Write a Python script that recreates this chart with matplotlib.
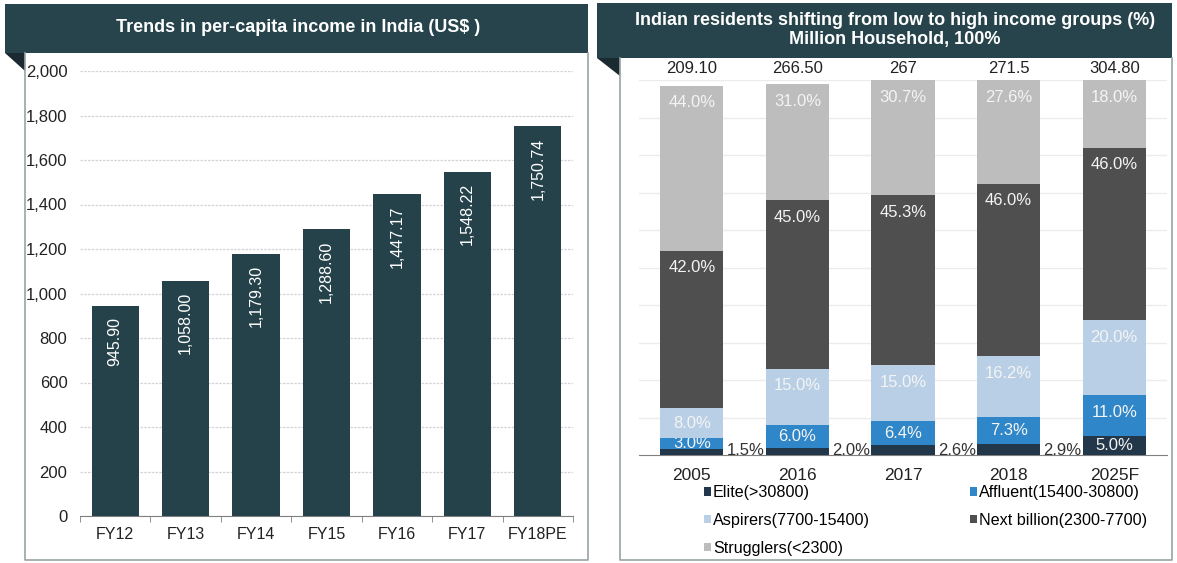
import numpy as np
import matplotlib.pyplot as plt
from matplotlib.patches import Rectangle, Polygon
from matplotlib.lines import Line2D

plt.rcParams['font.family'] = ['Liberation Sans', 'DejaVu Sans']

# left chart: per-capita income
years = ['FY12', 'FY13', 'FY14', 'FY15', 'FY16', 'FY17', 'FY18PE']
income = [945.90, 1058.00, 1179.30, 1288.60, 1447.17, 1548.22, 1750.74]

# right chart: income group shares
periods = ['2005', '2016', '2017', '2018', '2025F']
totals = ['209.10', '266.50', '267', '271.5', '304.80']
elite = [1.5, 2.0, 2.6, 2.9, 5.0]
affluent = [3.0, 6.0, 6.4, 7.3, 11.0]
aspirers = [8.0, 15.0, 15.0, 16.2, 20.0]
next_billion = [42.0, 45.0, 45.3, 46.0, 46.0]
strugglers = [44.0, 31.0, 30.7, 27.6, 18.0]

groups = [
    ('Elite(>30800)', elite, '#22384a'),
    ('Affluent(15400-30800)', affluent, '#2f86c8'),
    ('Aspirers(7700-15400)', aspirers, '#b9cfe6'),
    ('Next billion(2300-7700)', next_billion, '#4f4f4f'),
    ('Strugglers(<2300)', strugglers, '#bdbdbd'),
]

W, H = 1177, 563
fig = plt.figure(figsize=(W / 100, H / 100), dpi=100)
header = '#27444c'
border = '#9aa4a6'


def px(x0, y0, x1, y1):
    # pixel box -> figure fraction rect
    return [x0 / W, 1 - y1 / H, (x1 - x0) / W, (y1 - y0) / H]


def panel(x0, x1, ty0, ty1, fold):
    b = px(x0, ty0, x1, ty1)
    fig.patches.append(Rectangle((b[0], b[1]), b[2], b[3], transform=fig.transFigure,
                                 facecolor=header, edgecolor='none', zorder=0))
    tri = [(x0 / W, 1 - ty1 / H), (fold / W, 1 - ty1 / H), (fold / W, 1 - (ty1 + 18) / H)]
    fig.patches.append(Polygon(tri, closed=True, transform=fig.transFigure,
                               facecolor='#1a2a30', edgecolor='none'))
    xs = [fold / W, fold / W, x1 / W, x1 / W]
    ys = [1 - ty1 / H, 1 - 560 / H, 1 - 560 / H, 1 - ty1 / H]
    fig.lines.append(Line2D(xs, ys, transform=fig.transFigure, color=border, lw=1.2))


panel(5, 588, 4, 53, 25)
panel(597, 1172, 3, 58, 620)

fig.text(298 / W, 1 - 28 / H, 'Trends in per-capita income in India (US$ )',
         ha='center', va='center', color='white', fontsize=13, fontweight='bold')
fig.text(895 / W, 1 - 30 / H, 'Indian residents shifting from low to high income groups (%)\nMillion Household, 100%',
         ha='center', va='center', color='white', fontsize=13, fontweight='bold',
         linespacing=1.2)

# ---- left bar chart
ax1 = fig.add_axes(px(80, 71, 573, 516))
x = np.arange(len(years))
ax1.bar(x, income, width=0.67, color='#25424a', zorder=3)
for i, v in enumerate(income):
    ax1.text(i, v - 52, f'{v:,.2f}', rotation=90, ha='center', va='top',
             color='white', fontsize=11.5)
ax1.set_xlim(-0.5, len(years) - 0.5)
ax1.set_ylim(0, 2000)
ax1.set_yticks(range(0, 2001, 200))
ax1.set_yticklabels([f'{t:,}' for t in range(0, 2001, 200)])
ax1.set_xticks(x)
ax1.set_xticklabels(years)
ax1.yaxis.grid(True, color='#d4d4d4', lw=0.9, ls=(0, (2, 1)))
ax1.set_axisbelow(True)
for s in ['top', 'right', 'left']:
    ax1.spines[s].set_visible(False)
ax1.spines['bottom'].set_color('#808080')
ax1.tick_params(axis='y', length=0, labelsize=12, pad=9, colors='#222222')
ax1.tick_params(axis='x', length=0, labelsize=11.5, pad=8, colors='#222222')
ax1.set_xticks(np.arange(len(years) + 1) - 0.5, minor=True)
ax1.tick_params(axis='x', which='minor', length=4, color='#808080', direction='out')

# ---- right stacked bar chart
ax2 = fig.add_axes(px(639, 80, 1167, 455))
x2 = np.arange(len(periods))
bw = 0.6
bottom = np.zeros(len(periods))
handles = {}
for name, vals, col in groups:
    bars = ax2.bar(x2, vals, bw, bottom=bottom, color=col, zorder=3, label=name)
    handles[name] = bars
    for i, v in enumerate(vals):
        top = bottom[i] + v
        if name.startswith('Elite') and v < 4:
            ax2.text(i + bw / 2 + 0.03, 1.2, f'{v:.1f}%', ha='left', va='center',
                     color='#333333', fontsize=12)
        else:
            ax2.text(i, top - min(v / 2, 4.6), f'{v:.1f}%', ha='center', va='center',
                     color='#f4f4f4', fontsize=12)
    bottom += np.array(vals)
for i, t in enumerate(totals):
    ax2.text(i, 101.0, t, ha='center', va='bottom', color='#222222', fontsize=12)
ax2.set_xlim(-0.5, len(periods) - 0.5)
ax2.set_ylim(0, 100)
ax2.set_yticks(range(10, 101, 10))
ax2.set_yticklabels([])
ax2.yaxis.grid(True, color='#ececec', lw=1.0)
ax2.set_axisbelow(True)
for s in ['top', 'right', 'left']:
    ax2.spines[s].set_visible(False)
ax2.spines['bottom'].set_color('#808080')
ax2.tick_params(axis='y', length=0)
ax2.set_xticks(x2)
ax2.set_xticklabels(periods)
ax2.tick_params(axis='x', length=0, labelsize=12.5, pad=9, colors='#222222')

order = ['Elite(>30800)', 'Aspirers(7700-15400)', 'Strugglers(<2300)',
         'Affluent(15400-30800)', 'Next billion(2300-7700)']
fig.legend([handles[n] for n in order], order, ncol=2, loc='upper left',
           bbox_to_anchor=(704 / W, 1 - 485 / H), frameon=False, fontsize=11.6,
           handlelength=0.45, handleheight=0.45, handletextpad=0.1,
           columnspacing=6.2, labelspacing=0.8, borderaxespad=0, borderpad=0)

fig.savefig('out.png', dpi=100)
